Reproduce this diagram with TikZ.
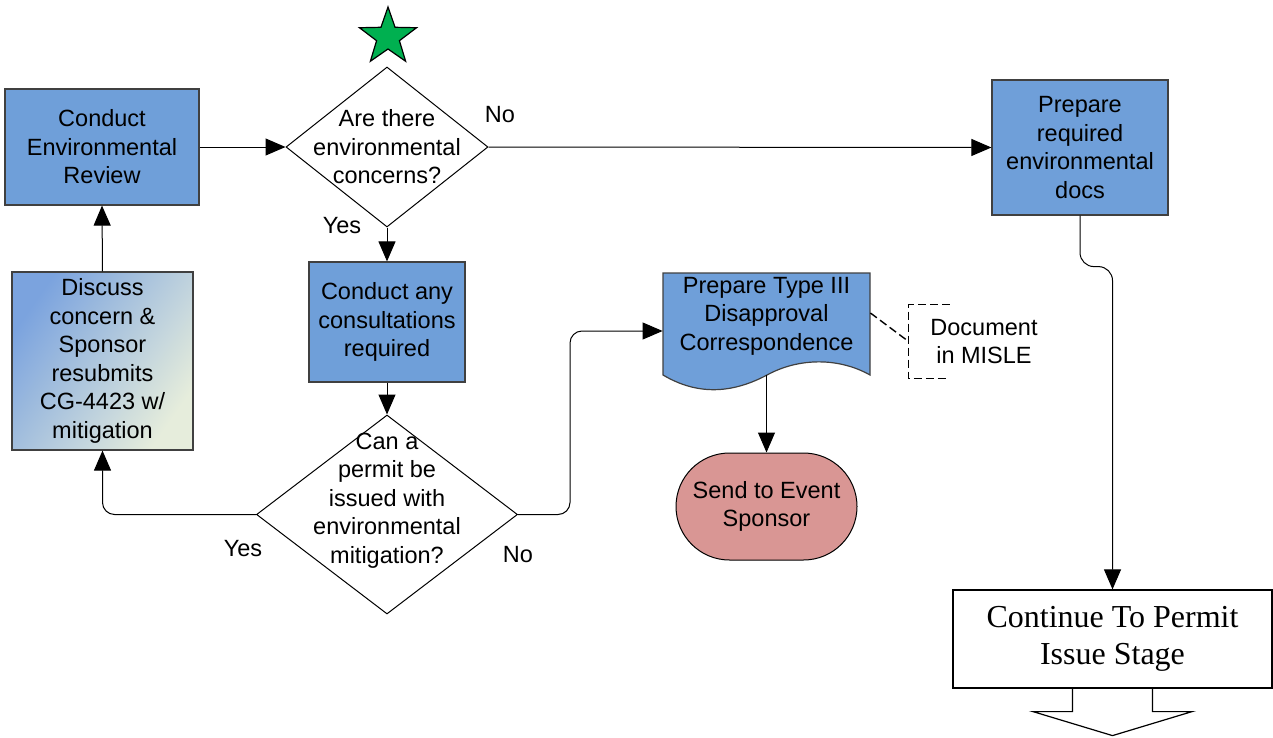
\documentclass[tikz,border=0pt]{standalone}
\usepackage{fontspec}
\setmainfont{Liberation Sans}
\newfontfamily\serifface{Liberation Serif}
\usetikzlibrary{arrows.meta,positioning,shapes.geometric,shapes.misc}
\definecolor{procfill}{HTML}{6F9FD9}
\definecolor{boxline}{HTML}{404040}
\definecolor{startfill}{HTML}{00B050}
\definecolor{endfill}{HTML}{D99694}
\definecolor{loopA}{HTML}{7BA3DE}
\definecolor{loopM}{HTML}{C3D4E0}
\definecolor{loopB}{HTML}{E6EDDC}

\begin{document}
\begin{tikzpicture}[
  x=0.5pt, y=-0.5pt,
  font=\fontsize{11.75pt}{14.25pt}\selectfont,
  proc/.style   = {draw=boxline, fill=procfill, line width=0.6pt, align=center, inner sep=0pt},
  decide/.style = {diamond, draw=black, fill=white, line width=0.5pt, inner sep=0pt},
  dtext/.style  = {align=center, inner sep=0pt},
  flow/.style   = {-{Triangle[length=10pt, width=8.5pt]}, line width=0.5pt},
  note/.style   = {dash pattern=on 4pt off 2pt, line width=0.7pt},
  lbl/.style    = {inner sep=0pt},
]
\useasboundingbox (0,0) rectangle (1273,738);

% ---------- top row ---------------------------------------------------------------
\node[proc, minimum width=97pt, minimum height=58pt] (review) at (102,147)
     {Conduct\\Environmental\\Review};
\node[star, star points=5, star point ratio=2.5, draw=black, fill=startfill,
      line width=0.6pt, minimum size=30pt, inner sep=0pt] (start) at (388,37) {};
\node[decide, minimum width=101pt, minimum height=80pt,
      label={[dtext]center:Are there\\environmental\\concerns?}] (isenv) at (387,147) {};
\node[proc, minimum width=88pt, minimum height=67.5pt] (prep) at (1080,147.5)
     {Prepare\\required\\environmental\\docs};

% ---------- middle column -----------------------------------------------------------
\node[proc, minimum width=78pt, minimum height=60pt] (consult) at (387,322)
     {Conduct any\\consultations\\required};
\node[decide, minimum width=130.5pt, minimum height=99.5pt,
      label={[dtext, yshift=7pt]center:Can a\\permit be\\issued with\\environmental\\mitigation?}]
     (mitig) at (387,514.5) {};
\node[draw=boxline, line width=0.6pt, top color=loopA, middle color=loopM, bottom color=loopB,
      shading angle=55, minimum width=90.5pt, minimum height=89pt, align=center, inner sep=0pt]
     (discuss) at (102.5,361)
     {Discuss\\concern \&\\Sponsor\\resubmits\\CG-4423 w/\\mitigation};

% ---------- disapproval branch ------------------------------------------------------
\filldraw[fill=procfill, draw=boxline, line width=0.6pt]
  (663,273) -- (870,273) -- (870,375) .. controls (840,358) and (800,357) .. (767,375)
  .. controls (735,392) and (700,397) .. (663,375) -- cycle;
\node[minimum width=103.5pt, minimum height=58pt, inner sep=0pt,
      label={[dtext, yshift=7.5pt]center:Prepare Type III\\Disapproval\\Correspondence}]
     (typeiii) at (766.5,331) {};
\node[rounded rectangle, draw=black, fill=endfill, line width=0.5pt, minimum width=90.5pt,
      minimum height=53.5pt, align=center, inner sep=0pt] (send) at (766.5,506.5)
     {Send to Event\\Sponsor};
\node[minimum width=75pt, minimum height=36.5pt, align=center, inner sep=0pt] (misle) at (984,341.5)
     {Document\\in MISLE};
\draw[note] ([xshift=20.5pt]misle.north west) -- (misle.north west) -- (misle.south west) -- ++(41,0);
\draw[note] ([yshift=9pt]typeiii.east) -- (misle.west);

% ---------- exit ----------------------------------------------------------------------
\node[draw=black, fill=white, line width=0.6pt, minimum width=159.5pt, minimum height=49pt,
      align=center, inner sep=0pt, font=\serifface\fontsize{16pt}{18.5pt}\selectfont]
     (cont) at (1112.5,639) {Continue To Permit\\Issue Stage};
\draw[line width=0.6pt] ([xshift=-20pt]cont.south) -- ++(0,23) -- ++(-39.5,0) -- ++(79.5,24)
  -- ++(79.5,-24) -- ++(-39.5,0) -- ++(0,-23);

% ---------- connectors ----------------------------------------------------------------
\draw[flow] (review.east) -- (isenv.west);
\draw[flow] (isenv.east) -- (prep.west);
\draw[flow] (isenv.south) -- (consult.north);
\draw[flow] (consult.south) -- (mitig.north);
\draw[flow, rounded corners=6pt] (mitig.west) -| (discuss.south);
\draw[flow] (discuss.north) -- (review.south);
\draw[flow, rounded corners=6pt] (mitig.east) -- ++(52,0) |- (typeiii.west);
\draw[flow] ([yshift=7pt]typeiii.south) -- (send.north);
\draw[flow, rounded corners=7pt] (prep.south) -- ++(0,51) -| (cont.north);

\node[lbl] (no1)  at (500,115) {No};
\node[lbl] (yes1) at (342,226) {Yes};
\node[lbl] (yes2) at (243,549) {Yes};
\node[lbl] (no2)  at (518,555) {No};

\end{tikzpicture}
\end{document}
